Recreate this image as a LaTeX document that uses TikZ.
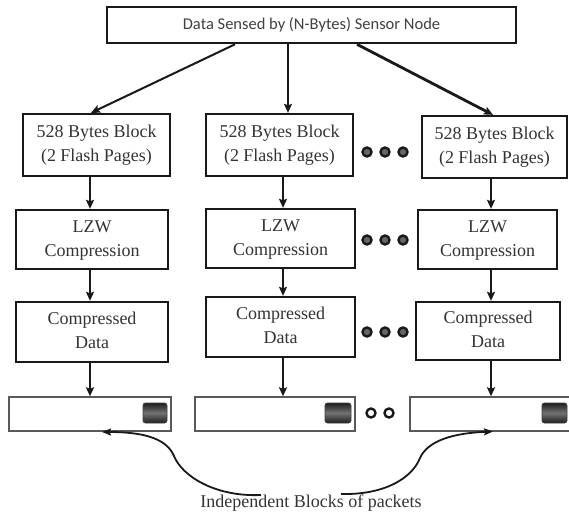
\documentclass[tikz,border=0pt]{standalone}
\usepackage{fontspec}
\setmainfont{Liberation Serif}
\newfontfamily\timesfont{Liberation Serif}
\newfontfamily\calibfont{Carlito}
\usetikzlibrary{arrows.meta}
% two centred lines of block text
\newcommand{\twolines}[2]{\timesfont\fontsize{18}{24}\selectfont
  \begin{tabular}{@{}c@{}}#1\\#2\end{tabular}}

\begin{document}
\begin{tikzpicture}[x=1pt,y=-1pt,
  srcbox/.style={draw=black!90, line width=2.6pt, fill=white,
    inner sep=0pt, text=black!75,
    font=\calibfont\fontsize{16.5}{20}\selectfont},
  blk/.style={draw=black!90, line width=2.3pt, fill=white,
    inner sep=0pt, text=black!80},
  pkt/.style={draw=black!65, line width=1.4pt, fill=white, inner sep=0pt,
    minimum height=34pt},
  hdr/.style={rounded corners=2.5pt, draw=black!75, line width=0.8pt,
    top color=black!88, bottom color=black!88, middle color=black!55,
    minimum width=24pt, minimum height=20pt, inner sep=0pt},
  flow/.style={-{Stealth[length=9pt,width=8pt,inset=1.5pt]},
    line width=1.8pt, draw=black!90},
  curve/.style={-{Stealth[length=9pt,width=7pt,inset=1.5pt]},
    line width=1.8pt, draw=black!90},
  dot/.style={circle, fill=black!60, draw=black!90, line width=2.4pt,
    minimum size=9pt, inner sep=0pt},
]
\useasboundingbox (0,0) rectangle (569,514);
\clip (0,0) rectangle (569,514);

% 528-byte blocks
\node[blk, minimum width=147pt, minimum height=62pt] (b1) at (96.5,145)
  {\twolines{528 Bytes Block}{(2 Flash Pages)}};
\node[blk, minimum width=147pt, minimum height=62pt] (b2) at (279.5,145)
  {\twolines{528 Bytes Block}{(2 Flash Pages)}};
\node[blk, minimum width=145pt, minimum height=62pt] (b3) at (494.5,147)
  {\twolines{528 Bytes Block}{(2 Flash Pages)}};

% compression stage
\node[blk, minimum width=152pt, minimum height=59pt] (l1) at (92,239.5)
  {\twolines{LZW}{Compression}};
\node[blk, minimum width=149pt, minimum height=59pt] (l2) at (280.5,238.5)
  {\twolines{LZW}{Compression}};
\node[blk, minimum width=139pt, minimum height=59pt] (l3) at (487.5,239.5)
  {\twolines{LZW}{Compression}};

% compressed output
\node[blk, minimum width=152pt, minimum height=60pt] (c1) at (92,332)
  {\twolines{Compressed}{Data}};
\node[blk, minimum width=149pt, minimum height=60pt] (c2) at (280.5,327)
  {\twolines{Compressed}{Data}};
\node[blk, minimum width=144pt, minimum height=58pt] (c3) at (488,331)
  {\twolines{Compressed}{Data}};

% source of the data
\node[srcbox, minimum width=409pt, minimum height=36pt]
  (top) at (311.5,25) {Data Sensed by (N-Bytes) Sensor Node};

% packets with their headers
\node[pkt, minimum width=162pt] (p1) at (90,414) {};
\node[pkt, minimum width=160pt] (p2) at (275,414) {};
\node[pkt, minimum width=165pt] (p3) at (492.5,414) {};
\node[hdr] (h1) at (155,413) {};
\node[hdr, minimum width=26pt] (h2) at (338,413) {};
\node[hdr, minimum width=25pt] (h3) at (554.5,413) {};

% column axes for the vertical arrows
\coordinate (k1) at (90,0);
\coordinate (k2) at (283,0);
\coordinate (k3) at (491,0);

% split of the sensed data
\draw[flow, line width=2pt] ([xshift=-76.5pt]top.south) -- ([xshift=-5.5pt]b1.north);
\draw[flow, line width=1.5pt] ([xshift=-23.5pt]top.south) -- ([xshift=8.5pt]b2.north);
\draw[flow, line width=2.8pt] ([xshift=45.5pt]top.south) -- ([xshift=-1.5pt]b3.north);

% per-column flow
\draw[flow, line width=2pt] (b1.south -| k1) -- (l1.north -| k1);
\draw[flow, line width=2.6pt] (l1.south -| k1) -- (c1.north -| k1);
\draw[flow, line width=2.6pt] (c1.south -| k1) -- (p1.north -| k1);
\draw[flow, line width=2.6pt] (b2.south -| k2) -- (l2.north -| k2);
\draw[flow, line width=1.6pt] (l2.south -| k2) -- (c2.north -| k2);
\draw[flow, line width=1.6pt] (c2.south -| k2) -- (p2.north -| k2);
\draw[flow] (b3.south -| k3) -- (l3.north -| k3);
\draw[flow] (l3.south -| k3) -- (c3.north -| k3);
\draw[flow] (c3.south -| k3) -- (p3.north -| k3);

% ellipses between columns
\foreach \yy/\r in {152/a,240/b,332/c}{
  \node[dot] (d\r1) at (367,\yy) {};
  \node[dot] (d\r2) at (385,\yy) {};
  \node[dot] (d\r3) at (403,\yy) {};
}
\node[dot, fill=white] (dd1) at (371,413) {};
\node[dot, fill=white] (dd2) at (389,413) {};

% caption and its pointers
\node[font=\timesfont\fontsize{18}{20}\selectfont, text=black!80] (lbl) at (311,503)
  {Independent Blocks of packets};
\coordinate (ls) at (261,495);
\coordinate (rs) at (341,494);
\coordinate (lt) at (102,432);
\coordinate (rt) at (493,431.5);
\draw[curve] (ls) .. controls (215,497) and (182,476) .. (174,456)
  .. controls (166,437) and (140,432) .. (lt);
\draw[curve] (rs) .. controls (385,495) and (412,478) .. (420,458)
  .. controls (428,440) and (455,433) .. (rt);
\end{tikzpicture}
\end{document}
